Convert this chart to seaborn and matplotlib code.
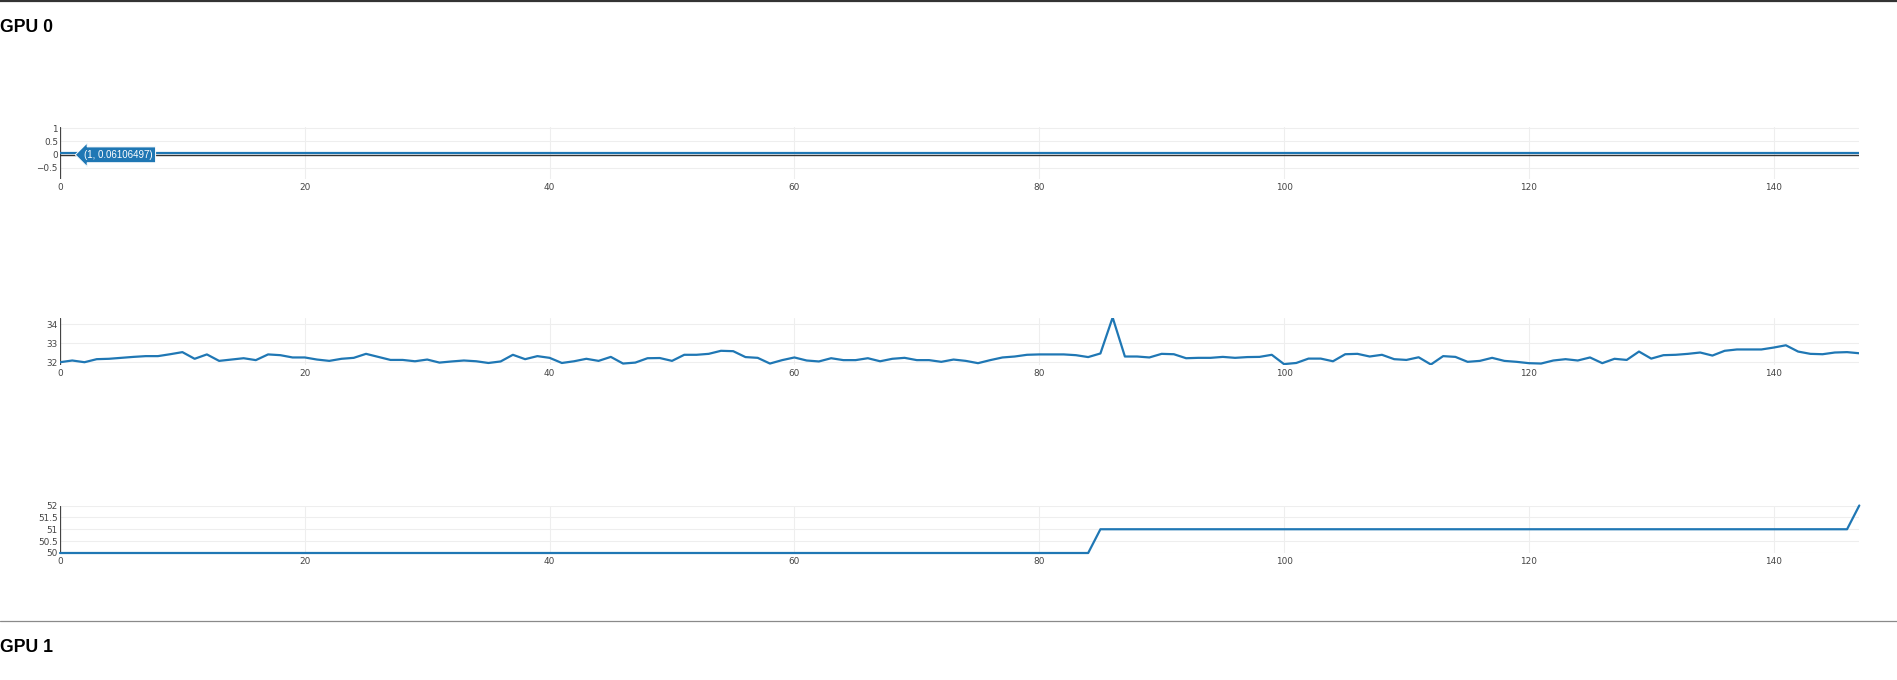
import numpy as np
import pandas as pd
import seaborn as sns
import matplotlib
matplotlib.use("Agg")
import matplotlib.pyplot as plt
from matplotlib.lines import Line2D

# ---------------- data ----------------
steps = list(range(148))

power_val = 0.06106497
power = [power_val] * 148

temperature = [
    32.00, 32.09, 32.00, 32.16, 32.18, 32.23, 32.28, 32.32, 32.32, 32.42,
    32.53, 32.18, 32.41, 32.07, 32.14, 32.21, 32.11, 32.41, 32.37, 32.25,
    32.25, 32.14, 32.07, 32.18, 32.23, 32.44, 32.28, 32.12, 32.12, 32.05,
    32.14, 31.98, 32.04, 32.09, 32.05, 31.96, 32.04, 32.39, 32.16, 32.32,
    32.23, 31.96, 32.05, 32.18, 32.07, 32.28, 31.93, 31.98, 32.21, 32.22,
    32.07, 32.39, 32.39, 32.44, 32.60, 32.58, 32.27, 32.23, 31.93, 32.11,
    32.25, 32.09, 32.04, 32.21, 32.11, 32.11, 32.21, 32.05, 32.18, 32.23,
    32.11, 32.11, 32.02, 32.14, 32.07, 31.95, 32.11, 32.25, 32.30, 32.39,
    32.41, 32.41, 32.41, 32.37, 32.27, 32.46, 34.35, 32.30, 32.30, 32.25,
    32.44, 32.42, 32.21, 32.23, 32.23, 32.28, 32.23, 32.27, 32.28, 32.39,
    31.90, 31.96, 32.19, 32.19, 32.05, 32.42, 32.44, 32.30, 32.39, 32.16,
    32.12, 32.26, 31.88, 32.32, 32.28, 32.02, 32.07, 32.23, 32.07, 32.02,
    31.95, 31.93, 32.09, 32.16, 32.09, 32.25, 31.95, 32.18, 32.12, 32.56,
    32.19, 32.37, 32.39, 32.44, 32.51, 32.35, 32.60, 32.67, 32.67, 32.67,
    32.77, 32.89, 32.56, 32.44, 32.42, 32.51, 32.53, 32.47,
]

fan = [50] * 85 + [51] * 62 + [52]

x_ticks = [0, 20, 40, 60, 80, 100, 120, 140]
y_ticks_1 = [-0.5, 0, 0.5, 1]
y_labels_1 = ["\u22120.5", "0", "0.5", "1"]
y_ticks_2 = [32, 33, 34]
y_labels_2 = ["32", "33", "34"]
y_ticks_3 = [50, 50.5, 51, 51.5, 52]
y_labels_3 = ["50", "50.5", "51", "51.5", "52"]

hover_text = "(1, 0.06106497)"
title_top = "GPU 0"
title_bottom = "GPU 1"

# ---------------- style ----------------
sns.set_theme(style="white")
plt.rcParams["font.family"] = ["DejaVu Sans"]

W, H = 1897, 680
fig = plt.figure(figsize=(W / 100, H / 100), dpi=100)
fig.patch.set_facecolor("white")

LINE = "#1f77b4"
GRID = "#eeeeee"
ZERO = "#444444"
TICK = "#444444"


def fx(px):
    return px / W


def fy(py):
    return 1 - py / H


left_px, right_px = 60, 1859.3


def make_ax(top_px, bot_px):
    return fig.add_axes([fx(left_px), fy(bot_px), fx(right_px - left_px),
                         (bot_px - top_px) / H])


def style_ax(ax, yticks, ylabels, ylim):
    ax.set_xlim(0, 147)
    ax.set_ylim(*ylim)
    ax.set_xticks(x_ticks)
    ax.set_xticklabels([str(t) for t in x_ticks])
    ax.set_yticks(yticks)
    ax.set_yticklabels(ylabels)
    ax.grid(True, color=GRID, lw=0.75)
    ax.set_axisbelow(True)
    for s in ax.spines.values():
        s.set_visible(False)
    ax.tick_params(axis="both", length=0, labelsize=6.4, colors=TICK)
    ax.tick_params(axis="x", pad=3)
    ax.tick_params(axis="y", pad=1.5)
    ax.set_xlabel("")
    ax.set_ylabel("")
    # x zeroline (vertical at x=0)
    ax.axvline(0, color=ZERO, lw=0.9, zorder=1.5)
    ax.set_facecolor("white")


df = pd.DataFrame({"step": steps, "power": power,
                   "temperature": temperature, "fan": fan})

# chart 1
ax1 = make_ax(126.7, 179.3)
style_ax(ax1, y_ticks_1, y_labels_1, (power_val - 1, power_val + 1))
ax1.axhline(0, color="#333333", lw=1.0, zorder=1.5)
sns.lineplot(data=df, x="step", y="power", ax=ax1, color=LINE, lw=1.6,
             zorder=3)
ax1.set_xlabel("")
ax1.set_ylabel("")
ax1.annotate(hover_text, xy=(1, power_val), xytext=(8.5, -1.3),
             textcoords="offset points", ha="left", va="center",
             color="white", fontsize=7.0, family=["Liberation Sans"],
             bbox=dict(boxstyle="larrow,pad=0.3", fc=LINE, ec="white",
                       lw=0.7), zorder=5)

# chart 2
ax2 = make_ax(317.5, 364.5)
style_ax(ax2, y_ticks_2, y_labels_2, (min(temperature), max(temperature)))
sns.lineplot(data=df, x="step", y="temperature", ax=ax2, color=LINE, lw=1.6,
             zorder=3)
ax2.set_xlabel("")
ax2.set_ylabel("")

# chart 3
ax3 = make_ax(505.5, 553)
style_ax(ax3, y_ticks_3, y_labels_3, (min(fan), max(fan)))
sns.lineplot(data=df, x="step", y="fan", ax=ax3, color=LINE, lw=1.6,
             zorder=3, clip_on=False)
ax3.set_xlabel("")
ax3.set_ylabel("")

# header / separators
fig.add_artist(Line2D([0, 1], [fy(1), fy(1)], color="#333333", lw=1.6,
                      transform=fig.transFigure))
fig.add_artist(Line2D([0, 1], [fy(620.6), fy(620.6)], color="#8a8a8a",
                      lw=0.9, transform=fig.transFigure))
fig.text(fx(0.5), fy(27), title_top, ha="left", va="center", fontsize=12.7,
         fontweight="bold", family=["Liberation Sans"], color="black")
fig.text(fx(0.5), fy(647.5), title_bottom, ha="left", va="center",
         fontsize=12.7, fontweight="bold", family=["Liberation Sans"],
         color="black")

fig.savefig("out.png", dpi=100, facecolor="white")
